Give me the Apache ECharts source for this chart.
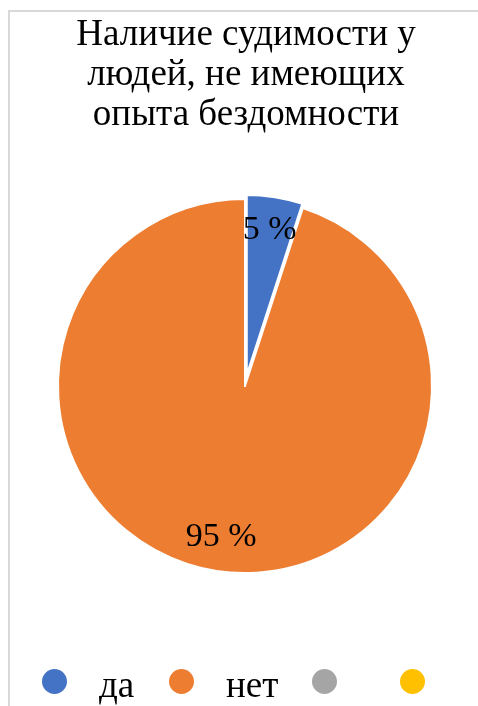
<!DOCTYPE html>
<html>
<head>
<meta charset="utf-8">
<script src="https://cdn.jsdelivr.net/npm/echarts@6/dist/echarts.min.js"></script>
<style>
  html, body { margin: 0; padding: 0; background: #fff; }
  #chart { width: 478px; height: 706px; }
</style>
</head>
<body>
<div id="chart"></div>
<script>
// Categories (the last two are unnamed, empty entries) and their shares in percent
const categories = ['да', 'нет', ' ', '  '];
const shares = [5, 95, 0, 0];
const colors = ['#4472C4', '#ED7D31', '#A5A5A5', '#FFC000'];
const titleText = 'Наличие судимости у\nлюдей, не имеющих\nопыта бездомности';

const serif = '"Liberation Serif", "Times New Roman", serif';
const center = [245, 386];
const outerR = 187;

const pieData = categories.map((name, i) => ({
  name: name,
  value: shares[i],
  selected: i === 0,
  itemStyle: { color: colors[i], borderWidth: i === 0 ? 4 : 2 }
}));

// One legend block per entry so each marker sits at its own slot
const legendLefts = [40, 167, 310, 398];
const legends = categories.map((name, i) => ({
  data: [name],
  left: legendLefts[i],
  bottom: 0,
  padding: 0,
  icon: 'circle',
  itemWidth: 27,
  itemHeight: 27,
  selectedMode: false,
  formatter: '{t|{name}}',
  textStyle: {
    fontFamily: serif,
    fontSize: 37,
    color: '#000',
    rich: {
      t: {
        fontFamily: serif,
        fontSize: 37,
        color: '#000',
        padding: [12, 0, 0, 26]
      }
    }
  }
}));

const chart = echarts.init(document.getElementById('chart'), null, { renderer: 'canvas' });
chart.setOption({
  animation: false,
  title: {
    text: titleText,
    left: 241,
    top: 10,
    textAlign: 'center',
    textStyle: {
      fontFamily: serif,
      fontSize: 37,
      fontWeight: 'normal',
      color: '#000',
      lineHeight: 40
    }
  },
  legend: legends,
  graphic: [{
    type: 'polyline',
    shape: { points: [[9, 720], [9, 11], [490, 11]] },
    style: { stroke: '#d9d9d9', lineWidth: 2, fill: null },
    silent: true
  }],
  series: [
    {
      type: 'pie',
      center: center,
      radius: outerR,
      startAngle: 90,
      selectedMode: 'single',
      selectedOffset: 5,
      avoidLabelOverlap: false,
      label: { show: false },
      labelLine: { show: false },
      itemStyle: { borderColor: '#fff', borderWidth: 2 },
      emphasis: { disabled: true },
      data: pieData
    },
    {
      // transparent ring carrying the percentage labels at ~0.8 of the radius
      type: 'pie',
      center: center,
      radius: [113, outerR],
      startAngle: 90,
      selectedMode: 'single',
      selectedOffset: 5,
      avoidLabelOverlap: false,
      silent: true,
      labelLine: { show: false },
      itemStyle: { color: 'rgba(0,0,0,0)', borderWidth: 0 },
      emphasis: { disabled: true },
      label: {
        show: true,
        position: 'inside',
        fontFamily: serif,
        fontSize: 34,
        color: '#000',
        formatter: p => (p.value ? p.value + ' %' : '')
      },
      data: categories.map((name, i) => ({
        name: name,
        value: shares[i],
        selected: i === 0
      }))
    }
  ]
});
</script>
</body>
</html>
